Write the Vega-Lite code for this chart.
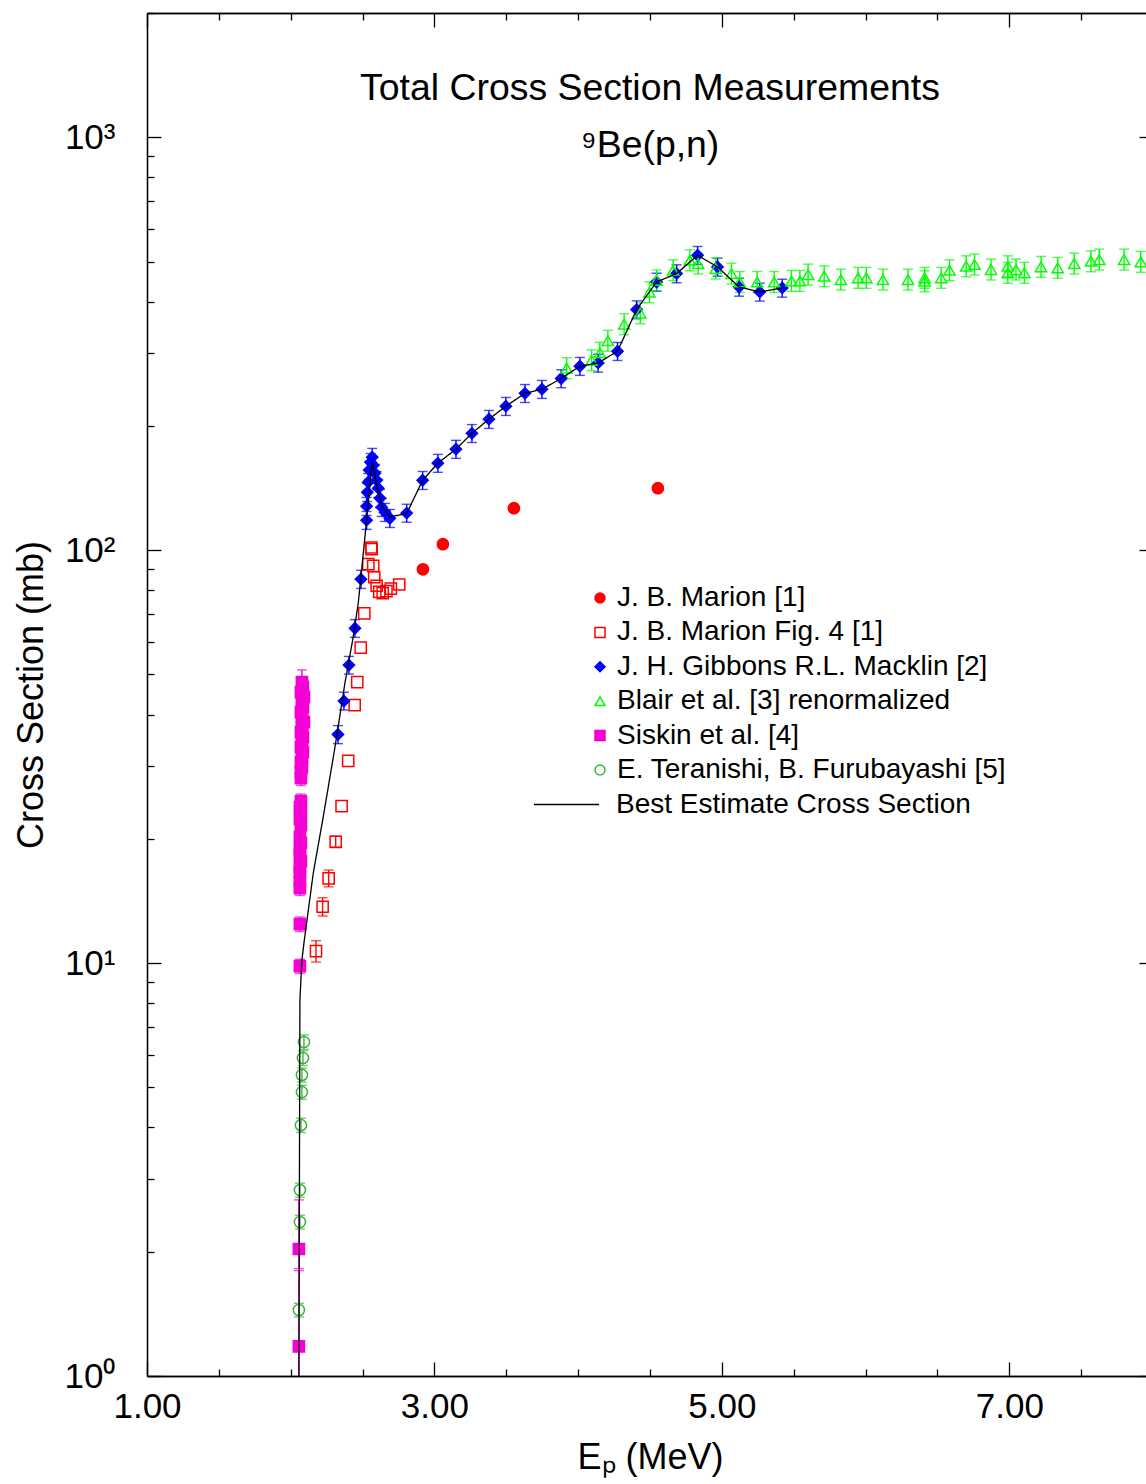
{
  "$schema": "https://vega.github.io/schema/vega-lite/v6.json",
  "width": 1006,
  "height": 1363,
  "autosize": {"type": "none"},
  "padding": {"left": 147, "top": 13, "right": -7, "bottom": 108},
  "background": "white",
  "title": {
    "text": ["Total Cross Section Measurements", "⁹Be(p,n)"],
    "anchor": "middle",
    "frame": "group",
    "orient": "top",
    "baseline": "top",
    "offset": -152,
    "lineHeight": 57,
    "font": "Liberation Sans",
    "fontSize": 37.4,
    "fontWeight": "normal",
    "color": "black"
  },
  "datasets": {
    "pts": [
      {"s": "J. B. Marion [1]", "e": 2.920, "y": 89.9},
      {"s": "J. B. Marion [1]", "e": 3.059, "y": 103.4},
      {"s": "J. B. Marion [1]", "e": 3.553, "y": 126.4},
      {"s": "J. B. Marion [1]", "e": 4.555, "y": 141.3},
      {"s": "J. B. Marion Fig. 4 [1]", "e": 2.176, "y": 10.69, "lo": 10.06, "hi": 11.33},
      {"s": "J. B. Marion Fig. 4 [1]", "e": 2.222, "y": 13.69, "lo": 13.0, "hi": 14.4},
      {"s": "J. B. Marion Fig. 4 [1]", "e": 2.264, "y": 16.04, "lo": 15.3, "hi": 16.8},
      {"s": "J. B. Marion Fig. 4 [1]", "e": 2.313, "y": 19.67, "lo": 19.1, "hi": 20.3},
      {"s": "J. B. Marion Fig. 4 [1]", "e": 2.354, "y": 23.99},
      {"s": "J. B. Marion Fig. 4 [1]", "e": 2.400, "y": 30.89},
      {"s": "J. B. Marion Fig. 4 [1]", "e": 2.445, "y": 42.14},
      {"s": "J. B. Marion Fig. 4 [1]", "e": 2.463, "y": 47.9},
      {"s": "J. B. Marion Fig. 4 [1]", "e": 2.487, "y": 58.1},
      {"s": "J. B. Marion Fig. 4 [1]", "e": 2.512, "y": 70.3},
      {"s": "J. B. Marion Fig. 4 [1]", "e": 2.540, "y": 92.5},
      {"s": "J. B. Marion Fig. 4 [1]", "e": 2.560, "y": 101.5},
      {"s": "J. B. Marion Fig. 4 [1]", "e": 2.563, "y": 100.6},
      {"s": "J. B. Marion Fig. 4 [1]", "e": 2.574, "y": 91.6},
      {"s": "J. B. Marion Fig. 4 [1]", "e": 2.581, "y": 86.0},
      {"s": "J. B. Marion Fig. 4 [1]", "e": 2.598, "y": 82.0},
      {"s": "J. B. Marion Fig. 4 [1]", "e": 2.616, "y": 79.3},
      {"s": "J. B. Marion Fig. 4 [1]", "e": 2.640, "y": 78.7},
      {"s": "J. B. Marion Fig. 4 [1]", "e": 2.666, "y": 79.6},
      {"s": "J. B. Marion Fig. 4 [1]", "e": 2.697, "y": 80.7},
      {"s": "J. B. Marion Fig. 4 [1]", "e": 2.755, "y": 82.6},
      {"s": "J. H. Gibbons R.L. Macklin [2]", "e": 2.329, "y": 35.8, "lo": 34.0, "hi": 37.6},
      {"s": "J. H. Gibbons R.L. Macklin [2]", "e": 2.370, "y": 43.1, "lo": 41.0, "hi": 45.3},
      {"s": "J. H. Gibbons R.L. Macklin [2]", "e": 2.405, "y": 52.7, "lo": 50.1, "hi": 55.3},
      {"s": "J. H. Gibbons R.L. Macklin [2]", "e": 2.447, "y": 64.7, "lo": 61.5, "hi": 67.9},
      {"s": "J. H. Gibbons R.L. Macklin [2]", "e": 2.489, "y": 85.1, "lo": 80.8, "hi": 89.4},
      {"s": "J. H. Gibbons R.L. Macklin [2]", "e": 2.528, "y": 118.2, "lo": 112.3, "hi": 124.1},
      {"s": "J. H. Gibbons R.L. Macklin [2]", "e": 2.528, "y": 127.8, "lo": 121.4, "hi": 134.2},
      {"s": "J. H. Gibbons R.L. Macklin [2]", "e": 2.533, "y": 138.1, "lo": 131.2, "hi": 145.0},
      {"s": "J. H. Gibbons R.L. Macklin [2]", "e": 2.539, "y": 146.1, "lo": 138.8, "hi": 153.4},
      {"s": "J. H. Gibbons R.L. Macklin [2]", "e": 2.546, "y": 156.3, "lo": 148.5, "hi": 164.1},
      {"s": "J. H. Gibbons R.L. Macklin [2]", "e": 2.556, "y": 163.3, "lo": 155.1, "hi": 171.5},
      {"s": "J. H. Gibbons R.L. Macklin [2]", "e": 2.567, "y": 168.0, "lo": 159.6, "hi": 176.4},
      {"s": "J. H. Gibbons R.L. Macklin [2]", "e": 2.574, "y": 160.6, "lo": 152.6, "hi": 168.6},
      {"s": "J. H. Gibbons R.L. Macklin [2]", "e": 2.586, "y": 153.6, "lo": 145.9, "hi": 161.3},
      {"s": "J. H. Gibbons R.L. Macklin [2]", "e": 2.598, "y": 147.7, "lo": 140.3, "hi": 155.1},
      {"s": "J. H. Gibbons R.L. Macklin [2]", "e": 2.609, "y": 141.3, "lo": 134.2, "hi": 148.4},
      {"s": "J. H. Gibbons R.L. Macklin [2]", "e": 2.621, "y": 133.6, "lo": 126.9, "hi": 140.3},
      {"s": "J. H. Gibbons R.L. Macklin [2]", "e": 2.633, "y": 127.1, "lo": 120.7, "hi": 133.5},
      {"s": "J. H. Gibbons R.L. Macklin [2]", "e": 2.656, "y": 123.6, "lo": 117.4, "hi": 129.8},
      {"s": "J. H. Gibbons R.L. Macklin [2]", "e": 2.690, "y": 119.5, "lo": 113.5, "hi": 125.5},
      {"s": "J. H. Gibbons R.L. Macklin [2]", "e": 2.807, "y": 123.0, "lo": 116.9, "hi": 129.2},
      {"s": "J. H. Gibbons R.L. Macklin [2]", "e": 2.918, "y": 147.7, "lo": 140.3, "hi": 155.1},
      {"s": "J. H. Gibbons R.L. Macklin [2]", "e": 3.024, "y": 162.5, "lo": 154.4, "hi": 170.6},
      {"s": "J. H. Gibbons R.L. Macklin [2]", "e": 3.150, "y": 175.7, "lo": 166.9, "hi": 184.5},
      {"s": "J. H. Gibbons R.L. Macklin [2]", "e": 3.261, "y": 191.9, "lo": 182.3, "hi": 201.5},
      {"s": "J. H. Gibbons R.L. Macklin [2]", "e": 3.379, "y": 207.6, "lo": 197.2, "hi": 218.0},
      {"s": "J. H. Gibbons R.L. Macklin [2]", "e": 3.497, "y": 223.2, "lo": 212.0, "hi": 234.4},
      {"s": "J. H. Gibbons R.L. Macklin [2]", "e": 3.630, "y": 239.9, "lo": 227.9, "hi": 251.9},
      {"s": "J. H. Gibbons R.L. Macklin [2]", "e": 3.748, "y": 245.4, "lo": 233.1, "hi": 257.7},
      {"s": "J. H. Gibbons R.L. Macklin [2]", "e": 3.882, "y": 260.5, "lo": 247.5, "hi": 273.5},
      {"s": "J. H. Gibbons R.L. Macklin [2]", "e": 4.012, "y": 279.0, "lo": 265.1, "hi": 293.0},
      {"s": "J. H. Gibbons R.L. Macklin [2]", "e": 4.139, "y": 284.1, "lo": 269.9, "hi": 298.3},
      {"s": "J. H. Gibbons R.L. Macklin [2]", "e": 4.274, "y": 303.3, "lo": 288.1, "hi": 318.5},
      {"s": "J. H. Gibbons R.L. Macklin [2]", "e": 4.407, "y": 382.6, "lo": 363.5, "hi": 401.7},
      {"s": "J. H. Gibbons R.L. Macklin [2]", "e": 4.546, "y": 446.2, "lo": 423.9, "hi": 468.5},
      {"s": "J. H. Gibbons R.L. Macklin [2]", "e": 4.685, "y": 467.7, "lo": 444.3, "hi": 491.1},
      {"s": "J. H. Gibbons R.L. Macklin [2]", "e": 4.831, "y": 518.0, "lo": 492.1, "hi": 543.9},
      {"s": "J. H. Gibbons R.L. Macklin [2]", "e": 4.970, "y": 485.3, "lo": 461.0, "hi": 509.6},
      {"s": "J. H. Gibbons R.L. Macklin [2]", "e": 5.120, "y": 434.0, "lo": 412.3, "hi": 455.7},
      {"s": "J. H. Gibbons R.L. Macklin [2]", "e": 5.264, "y": 422.2, "lo": 401.1, "hi": 443.3},
      {"s": "J. H. Gibbons R.L. Macklin [2]", "e": 5.420, "y": 431.6, "lo": 410.0, "hi": 453.2},
      {"s": "Blair et al. [3] renormalized", "e": 3.920, "y": 275.9, "lo": 260.3, "hi": 292.5},
      {"s": "Blair et al. [3] renormalized", "e": 4.094, "y": 288.4, "lo": 272.1, "hi": 305.7},
      {"s": "Blair et al. [3] renormalized", "e": 4.151, "y": 300.8, "lo": 283.8, "hi": 318.8},
      {"s": "Blair et al. [3] renormalized", "e": 4.207, "y": 321.6, "lo": 303.4, "hi": 340.9},
      {"s": "Blair et al. [3] renormalized", "e": 4.320, "y": 352.6, "lo": 332.6, "hi": 373.8},
      {"s": "Blair et al. [3] renormalized", "e": 4.432, "y": 374.8, "lo": 353.6, "hi": 397.3},
      {"s": "Blair et al. [3] renormalized", "e": 4.496, "y": 421.4, "lo": 397.5, "hi": 446.7},
      {"s": "Blair et al. [3] renormalized", "e": 4.546, "y": 450.5, "lo": 425.0, "hi": 477.5},
      {"s": "Blair et al. [3] renormalized", "e": 4.661, "y": 476.4, "lo": 449.4, "hi": 505.0},
      {"s": "Blair et al. [3] renormalized", "e": 4.777, "y": 503.7, "lo": 475.2, "hi": 533.9},
      {"s": "Blair et al. [3] renormalized", "e": 4.835, "y": 494.5, "lo": 466.5, "hi": 524.2},
      {"s": "Blair et al. [3] renormalized", "e": 4.958, "y": 481.0, "lo": 453.8, "hi": 509.9},
      {"s": "Blair et al. [3] renormalized", "e": 5.067, "y": 467.7, "lo": 441.2, "hi": 495.8},
      {"s": "Blair et al. [3] renormalized", "e": 5.125, "y": 446.2, "lo": 420.9, "hi": 473.0},
      {"s": "Blair et al. [3] renormalized", "e": 5.246, "y": 446.2, "lo": 420.9, "hi": 473.0},
      {"s": "Blair et al. [3] renormalized", "e": 5.364, "y": 446.2, "lo": 420.9, "hi": 473.0},
      {"s": "Blair et al. [3] renormalized", "e": 5.484, "y": 448.9, "lo": 423.5, "hi": 475.8},
      {"s": "Blair et al. [3] renormalized", "e": 5.543, "y": 448.9, "lo": 423.5, "hi": 475.8},
      {"s": "Blair et al. [3] renormalized", "e": 5.600, "y": 465.1, "lo": 438.8, "hi": 493.0},
      {"s": "Blair et al. [3] renormalized", "e": 5.712, "y": 460.8, "lo": 434.7, "hi": 488.4},
      {"s": "Blair et al. [3] renormalized", "e": 5.828, "y": 452.2, "lo": 426.6, "hi": 479.3},
      {"s": "Blair et al. [3] renormalized", "e": 5.948, "y": 456.6, "lo": 430.8, "hi": 484.0},
      {"s": "Blair et al. [3] renormalized", "e": 6.005, "y": 456.6, "lo": 430.8, "hi": 484.0},
      {"s": "Blair et al. [3] renormalized", "e": 6.121, "y": 452.2, "lo": 426.6, "hi": 479.3},
      {"s": "Blair et al. [3] renormalized", "e": 6.295, "y": 452.2, "lo": 426.6, "hi": 479.3},
      {"s": "Blair et al. [3] renormalized", "e": 6.411, "y": 456.6, "lo": 430.8, "hi": 484.0},
      {"s": "Blair et al. [3] renormalized", "e": 6.411, "y": 448.0, "lo": 422.6, "hi": 474.9},
      {"s": "Blair et al. [3] renormalized", "e": 6.526, "y": 456.6, "lo": 430.8, "hi": 484.0},
      {"s": "Blair et al. [3] renormalized", "e": 6.584, "y": 476.4, "lo": 449.4, "hi": 505.0},
      {"s": "Blair et al. [3] renormalized", "e": 6.700, "y": 487.2, "lo": 459.6, "hi": 516.4},
      {"s": "Blair et al. [3] renormalized", "e": 6.758, "y": 491.9, "lo": 464.1, "hi": 521.4},
      {"s": "Blair et al. [3] renormalized", "e": 6.873, "y": 478.3, "lo": 451.2, "hi": 507.0},
      {"s": "Blair et al. [3] renormalized", "e": 6.990, "y": 487.2, "lo": 459.6, "hi": 516.4},
      {"s": "Blair et al. [3] renormalized", "e": 6.990, "y": 469.6, "lo": 443.0, "hi": 497.8},
      {"s": "Blair et al. [3] renormalized", "e": 7.047, "y": 478.3, "lo": 451.2, "hi": 507.0},
      {"s": "Blair et al. [3] renormalized", "e": 7.105, "y": 469.6, "lo": 443.0, "hi": 497.8},
      {"s": "Blair et al. [3] renormalized", "e": 7.221, "y": 485.6, "lo": 458.1, "hi": 514.7},
      {"s": "Blair et al. [3] renormalized", "e": 7.337, "y": 482.9, "lo": 455.6, "hi": 511.9},
      {"s": "Blair et al. [3] renormalized", "e": 7.452, "y": 494.5, "lo": 466.5, "hi": 524.2},
      {"s": "Blair et al. [3] renormalized", "e": 7.568, "y": 500.9, "lo": 472.5, "hi": 531.0},
      {"s": "Blair et al. [3] renormalized", "e": 7.626, "y": 505.7, "lo": 477.1, "hi": 536.0},
      {"s": "Blair et al. [3] renormalized", "e": 7.799, "y": 505.7, "lo": 477.1, "hi": 536.0},
      {"s": "Blair et al. [3] renormalized", "e": 7.915, "y": 499.2, "lo": 470.9, "hi": 529.2},
      {"s": "Siskin et al. [4]", "e": 2.078, "y": 47.90, "lo": 44.6, "hi": 51.3},
      {"s": "Siskin et al. [4]", "e": 2.085, "y": 46.59, "lo": 44.73, "hi": 48.45},
      {"s": "Siskin et al. [4]", "e": 2.071, "y": 45.31, "lo": 43.50, "hi": 47.12},
      {"s": "Siskin et al. [4]", "e": 2.092, "y": 44.06, "lo": 42.30, "hi": 45.82},
      {"s": "Siskin et al. [4]", "e": 2.078, "y": 42.85, "lo": 41.14, "hi": 44.56},
      {"s": "Siskin et al. [4]", "e": 2.085, "y": 41.67, "lo": 40.00, "hi": 43.34},
      {"s": "Siskin et al. [4]", "e": 2.071, "y": 40.53, "lo": 38.91, "hi": 42.15},
      {"s": "Siskin et al. [4]", "e": 2.078, "y": 39.41, "lo": 37.83, "hi": 40.99},
      {"s": "Siskin et al. [4]", "e": 2.092, "y": 38.33, "lo": 36.80, "hi": 39.86},
      {"s": "Siskin et al. [4]", "e": 2.078, "y": 37.28, "lo": 35.79, "hi": 38.77},
      {"s": "Siskin et al. [4]", "e": 2.071, "y": 36.25, "lo": 34.80, "hi": 37.70},
      {"s": "Siskin et al. [4]", "e": 2.085, "y": 35.26, "lo": 33.85, "hi": 36.67},
      {"s": "Siskin et al. [4]", "e": 2.078, "y": 34.28, "lo": 32.91, "hi": 35.65},
      {"s": "Siskin et al. [4]", "e": 2.071, "y": 33.34, "lo": 32.01, "hi": 34.67},
      {"s": "Siskin et al. [4]", "e": 2.085, "y": 32.42, "lo": 31.12, "hi": 33.72},
      {"s": "Siskin et al. [4]", "e": 2.078, "y": 31.53, "lo": 30.27, "hi": 32.79},
      {"s": "Siskin et al. [4]", "e": 2.071, "y": 30.67, "lo": 29.44, "hi": 31.90},
      {"s": "Siskin et al. [4]", "e": 2.078, "y": 29.82, "lo": 28.63, "hi": 31.01},
      {"s": "Siskin et al. [4]", "e": 2.071, "y": 29.00, "lo": 27.84, "hi": 30.16},
      {"s": "Siskin et al. [4]", "e": 2.071, "y": 28.05, "lo": 26.93, "hi": 29.17},
      {"s": "Siskin et al. [4]", "e": 2.071, "y": 24.68, "lo": 23.69, "hi": 25.67},
      {"s": "Siskin et al. [4]", "e": 2.064, "y": 23.86, "lo": 22.91, "hi": 24.81},
      {"s": "Siskin et al. [4]", "e": 2.071, "y": 23.08, "lo": 22.16, "hi": 24.00},
      {"s": "Siskin et al. [4]", "e": 2.064, "y": 22.32, "lo": 21.43, "hi": 23.21},
      {"s": "Siskin et al. [4]", "e": 2.071, "y": 21.59, "lo": 20.73, "hi": 22.45},
      {"s": "Siskin et al. [4]", "e": 2.064, "y": 20.19, "lo": 19.38, "hi": 21.00},
      {"s": "Siskin et al. [4]", "e": 2.071, "y": 19.53, "lo": 18.75, "hi": 20.31},
      {"s": "Siskin et al. [4]", "e": 2.064, "y": 18.88, "lo": 18.12, "hi": 19.64},
      {"s": "Siskin et al. [4]", "e": 2.064, "y": 18.26, "lo": 17.53, "hi": 18.99},
      {"s": "Siskin et al. [4]", "e": 2.071, "y": 17.66, "lo": 16.95, "hi": 18.37},
      {"s": "Siskin et al. [4]", "e": 2.064, "y": 17.08, "lo": 16.40, "hi": 17.76},
      {"s": "Siskin et al. [4]", "e": 2.064, "y": 16.61, "lo": 15.95, "hi": 17.27},
      {"s": "Siskin et al. [4]", "e": 2.064, "y": 15.79, "lo": 15.16, "hi": 16.42},
      {"s": "Siskin et al. [4]", "e": 2.064, "y": 15.19, "lo": 14.58, "hi": 15.80},
      {"s": "Siskin et al. [4]", "e": 2.064, "y": 12.43, "lo": 11.93, "hi": 12.93},
      {"s": "Siskin et al. [4]", "e": 2.064, "y": 9.83, "lo": 9.44, "hi": 10.22},
      {"s": "Siskin et al. [4]", "e": 2.057, "y": 2.03, "lo": 1.82, "hi": 2.67},
      {"s": "Siskin et al. [4]", "e": 2.057, "y": 1.18, "lo": 0.6, "hi": 1.8},
      {"s": "E. Teranishi, B. Furubayashi [5]", "e": 2.092, "y": 6.44, "lo": 6.18, "hi": 6.70},
      {"s": "E. Teranishi, B. Furubayashi [5]", "e": 2.085, "y": 5.89, "lo": 5.65, "hi": 6.13},
      {"s": "E. Teranishi, B. Furubayashi [5]", "e": 2.078, "y": 5.36, "lo": 5.15, "hi": 5.57},
      {"s": "E. Teranishi, B. Furubayashi [5]", "e": 2.078, "y": 4.87, "lo": 4.68, "hi": 5.06},
      {"s": "E. Teranishi, B. Furubayashi [5]", "e": 2.071, "y": 4.05, "lo": 3.89, "hi": 4.21},
      {"s": "E. Teranishi, B. Furubayashi [5]", "e": 2.064, "y": 2.82, "lo": 2.71, "hi": 2.93},
      {"s": "E. Teranishi, B. Furubayashi [5]", "e": 2.064, "y": 2.36, "lo": 2.27, "hi": 2.45},
      {"s": "E. Teranishi, B. Furubayashi [5]", "e": 2.057, "y": 1.445, "lo": 1.39, "hi": 1.50}
    ],
    "best": [
      {"s": "Best Estimate Cross Section", "e": 2.057, "y": 1.0},
      {"s": "Best Estimate Cross Section", "e": 2.064, "y": 8.14},
      {"s": "Best Estimate Cross Section", "e": 2.078, "y": 10.17},
      {"s": "Best Estimate Cross Section", "e": 2.092, "y": 11.18},
      {"s": "Best Estimate Cross Section", "e": 2.157, "y": 16.52},
      {"s": "Best Estimate Cross Section", "e": 2.226, "y": 22.57},
      {"s": "Best Estimate Cross Section", "e": 2.308, "y": 33.34},
      {"s": "Best Estimate Cross Section", "e": 2.377, "y": 47.64},
      {"s": "Best Estimate Cross Section", "e": 2.431, "y": 60.54},
      {"s": "Best Estimate Cross Section", "e": 2.470, "y": 74.4},
      {"s": "Best Estimate Cross Section", "e": 2.528, "y": 118.2},
      {"s": "Best Estimate Cross Section", "e": 2.567, "y": 163.6},
      {"s": "Best Estimate Cross Section", "e": 2.598, "y": 143.7},
      {"s": "Best Estimate Cross Section", "e": 2.633, "y": 128.5},
      {"s": "Best Estimate Cross Section", "e": 2.690, "y": 120.4},
      {"s": "Best Estimate Cross Section", "e": 2.807, "y": 122.7},
      {"s": "Best Estimate Cross Section", "e": 2.918, "y": 147.7},
      {"s": "Best Estimate Cross Section", "e": 3.024, "y": 162.5},
      {"s": "Best Estimate Cross Section", "e": 3.150, "y": 175.7},
      {"s": "Best Estimate Cross Section", "e": 3.261, "y": 191.9},
      {"s": "Best Estimate Cross Section", "e": 3.379, "y": 207.6},
      {"s": "Best Estimate Cross Section", "e": 3.497, "y": 223.2},
      {"s": "Best Estimate Cross Section", "e": 3.630, "y": 239.9},
      {"s": "Best Estimate Cross Section", "e": 3.748, "y": 245.4},
      {"s": "Best Estimate Cross Section", "e": 3.882, "y": 260.5},
      {"s": "Best Estimate Cross Section", "e": 4.012, "y": 279.0},
      {"s": "Best Estimate Cross Section", "e": 4.139, "y": 284.1},
      {"s": "Best Estimate Cross Section", "e": 4.274, "y": 303.3},
      {"s": "Best Estimate Cross Section", "e": 4.407, "y": 382.6},
      {"s": "Best Estimate Cross Section", "e": 4.546, "y": 446.2},
      {"s": "Best Estimate Cross Section", "e": 4.685, "y": 467.7},
      {"s": "Best Estimate Cross Section", "e": 4.831, "y": 518.0},
      {"s": "Best Estimate Cross Section", "e": 4.970, "y": 485.3},
      {"s": "Best Estimate Cross Section", "e": 5.120, "y": 434.0},
      {"s": "Best Estimate Cross Section", "e": 5.264, "y": 422.2},
      {"s": "Best Estimate Cross Section", "e": 5.420, "y": 431.6}
    ]
  },
  "layer": [
    {
      "data": {"name": "pts"},
      "transform": [{"filter": "isValid(datum.lo)"}],
      "mark": {"type": "errorbar", "ticks": {"size": 10}, "thickness": 1.4, "clip": true},
      "encoding": {
        "x": {"field": "e", "type": "quantitative", "scale": {"type": "linear", "domain": [1, 8], "nice": false, "zero": false}, "axis": null},
        "y": {"field": "lo", "type": "quantitative", "scale": {"type": "log", "domain": [1, 2000], "nice": false}, "axis": null},
        "y2": {"field": "hi"},
        "color": {"field": "s", "type": "nominal", "legend": null,
          "scale": {"domain": ["E. Teranishi, B. Furubayashi [5]", "Siskin et al. [4]", "Blair et al. [3] renormalized", "J. H. Gibbons R.L. Macklin [2]", "J. B. Marion Fig. 4 [1]", "J. B. Marion [1]"],
                    "range": ["#3cb43c", "#f500d5", "#00ff00", "#0000ff", "#ff0000", "#ff0000"]}}
      }
    },
    {
      "data": {"name": "pts"},
      "mark": {"type": "point", "opacity": 1, "strokeWidth": 1.5, "size": 125, "clip": true},
      "encoding": {
        "x": {"field": "e", "type": "quantitative", "scale": {"type": "linear", "domain": [1, 8], "nice": false, "zero": false}, "axis": null},
        "y": {"field": "y", "type": "quantitative", "scale": {"type": "log", "domain": [1, 2000], "nice": false}, "axis": null},
        "shape": {"field": "s", "type": "nominal",
          "scale": {"domain": ["J. B. Marion [1]", "J. B. Marion Fig. 4 [1]", "J. H. Gibbons R.L. Macklin [2]", "Blair et al. [3] renormalized", "Siskin et al. [4]", "E. Teranishi, B. Furubayashi [5]"],
                    "range": ["circle", "square", "diamond", "triangle-up", "square", "circle"]},
          "legend": {"orient": "none", "legendX": 439, "legendY": 571, "title": null, "padding": 0, "labelFont": "Liberation Sans", "labelFontSize": 28, "labelColor": "black", "labelLimit": 800, "symbolSize": 100, "symbolStrokeWidth": 1.5, "symbolOpacity": 1, "rowPadding": 6.4, "labelOffset": 3}},
        "fill": {"field": "s", "type": "nominal",
          "scale": {"domain": ["J. B. Marion [1]", "J. B. Marion Fig. 4 [1]", "J. H. Gibbons R.L. Macklin [2]", "Blair et al. [3] renormalized", "Siskin et al. [4]", "E. Teranishi, B. Furubayashi [5]"],
                    "range": ["#ff0000", "transparent", "#0000ff", "transparent", "#f500d5", "transparent"]},
          "legend": {"orient": "none", "legendX": 439, "legendY": 571, "title": null, "padding": 0, "labelFont": "Liberation Sans", "labelFontSize": 28, "labelColor": "black", "labelLimit": 800, "symbolSize": 100, "symbolStrokeWidth": 1.5, "symbolOpacity": 1, "rowPadding": 6.4, "labelOffset": 3}},
        "stroke": {"field": "s", "type": "nominal",
          "scale": {"domain": ["J. B. Marion [1]", "J. B. Marion Fig. 4 [1]", "J. H. Gibbons R.L. Macklin [2]", "Blair et al. [3] renormalized", "Siskin et al. [4]", "E. Teranishi, B. Furubayashi [5]"],
                    "range": ["#ff0000", "#ff0000", "#0000ff", "#00ff00", "#f500d5", "#3cb43c"]},
          "legend": {"orient": "none", "legendX": 439, "legendY": 571, "title": null, "padding": 0, "labelFont": "Liberation Sans", "labelFontSize": 28, "labelColor": "black", "labelLimit": 800, "symbolSize": 100, "symbolStrokeWidth": 1.5, "symbolOpacity": 1, "rowPadding": 6.4, "labelOffset": 3}}
      }
    },
    {
      "data": {"name": "best"},
      "mark": {"type": "line", "color": "black", "strokeWidth": 1.3, "clip": true},
      "encoding": {
        "x": {"field": "e", "type": "quantitative", "scale": {"type": "linear", "domain": [1, 8], "nice": false, "zero": false}, "axis": null},
        "y": {"field": "y", "type": "quantitative", "scale": {"type": "log", "domain": [1, 2000], "nice": false}, "axis": null},
        "strokeDash": {"field": "s", "type": "nominal",
          "scale": {"domain": ["Best Estimate Cross Section"], "range": [[1, 0]]},
          "legend": {"orient": "none", "legendX": 386, "legendY": 758, "title": null, "padding": 0, "labelFont": "Liberation Sans", "labelFontSize": 28, "labelColor": "black", "labelLimit": 800, "symbolType": "stroke", "symbolSize": 4225, "symbolStrokeColor": "black", "symbolStrokeWidth": 1.3, "labelOffset": 16}}
      }
    },
    {
      "data": {"name": "best"},
      "mark": {"type": "point", "opacity": 0},
      "encoding": {
        "x": {"field": "e", "type": "quantitative", "scale": {"type": "linear", "domain": [1, 8], "nice": false, "zero": false},
              "axis": {"orient": "bottom", "values": [1, 3, 5, 7], "format": ".2f", "tickSize": -14, "labelPadding": 27, "title": "Eₚ (MeV)", "titlePadding": 16}},
        "y": {"field": "y", "type": "quantitative", "scale": {"type": "log", "domain": [1, 2000], "nice": false}, "axis": null}
      }
    },
    {
      "data": {"name": "best"},
      "mark": {"type": "point", "opacity": 0},
      "encoding": {
        "x": {"field": "e", "type": "quantitative", "scale": {"type": "linear", "domain": [1, 8], "nice": false, "zero": false},
              "axis": {"orient": "bottom", "values": [1.5, 2, 2.5, 3.5, 4, 4.5, 5.5, 6, 6.5, 7.5], "tickSize": -7, "labels": false, "title": null}},
        "y": {"field": "y", "type": "quantitative", "scale": {"type": "log", "domain": [1, 2000], "nice": false}, "axis": null}
      }
    },
    {
      "data": {"name": "best"},
      "mark": {"type": "point", "opacity": 0},
      "encoding": {
        "x": {"field": "e", "type": "quantitative", "scale": {"type": "linear", "domain": [1, 8], "nice": false, "zero": false},
              "axis": {"orient": "top", "values": [1, 3, 5, 7], "tickSize": -14, "labels": false, "title": null}},
        "y": {"field": "y", "type": "quantitative", "scale": {"type": "log", "domain": [1, 2000], "nice": false}, "axis": null}
      }
    },
    {
      "data": {"name": "best"},
      "mark": {"type": "point", "opacity": 0},
      "encoding": {
        "x": {"field": "e", "type": "quantitative", "scale": {"type": "linear", "domain": [1, 8], "nice": false, "zero": false},
              "axis": {"orient": "top", "values": [1.5, 2, 2.5, 3.5, 4, 4.5, 5.5, 6, 6.5, 7.5], "tickSize": -7, "labels": false, "title": null}},
        "y": {"field": "y", "type": "quantitative", "scale": {"type": "log", "domain": [1, 2000], "nice": false}, "axis": null}
      }
    },
    {
      "data": {"name": "best"},
      "mark": {"type": "point", "opacity": 0},
      "encoding": {
        "x": {"field": "e", "type": "quantitative", "scale": {"type": "linear", "domain": [1, 8], "nice": false, "zero": false}, "axis": null},
        "y": {"field": "y", "type": "quantitative", "scale": {"type": "log", "domain": [1, 2000], "nice": false},
              "axis": {"orient": "left", "values": [1, 10, 100, 1000], "tickSize": -14, "labelPadding": 46,
                       "labelExpr": "datum.value == 1 ? '10⁰' : datum.value == 10 ? '10¹' : datum.value == 100 ? '10²' : '10³'",
                       "title": "Cross Section (mb)", "titlePadding": 14}}
      }
    },
    {
      "data": {"name": "best"},
      "mark": {"type": "point", "opacity": 0},
      "encoding": {
        "x": {"field": "e", "type": "quantitative", "scale": {"type": "linear", "domain": [1, 8], "nice": false, "zero": false}, "axis": null},
        "y": {"field": "y", "type": "quantitative", "scale": {"type": "log", "domain": [1, 2000], "nice": false},
              "axis": {"orient": "left", "values": [2, 3, 4, 5, 6, 7, 8, 9, 20, 30, 40, 50, 60, 70, 80, 90, 200, 300, 400, 500, 600, 700, 800, 900, 2000], "tickSize": -7, "labels": false, "title": null}}
      }
    },
    {
      "data": {"name": "best"},
      "mark": {"type": "point", "opacity": 0},
      "encoding": {
        "x": {"field": "e", "type": "quantitative", "scale": {"type": "linear", "domain": [1, 8], "nice": false, "zero": false}, "axis": null},
        "y": {"field": "y", "type": "quantitative", "scale": {"type": "log", "domain": [1, 2000], "nice": false},
              "axis": {"orient": "right", "values": [1, 10, 100, 1000], "tickSize": -14, "labels": false, "title": null}}
      }
    },
    {
      "data": {"name": "best"},
      "mark": {"type": "point", "opacity": 0},
      "encoding": {
        "x": {"field": "e", "type": "quantitative", "scale": {"type": "linear", "domain": [1, 8], "nice": false, "zero": false}, "axis": null},
        "y": {"field": "y", "type": "quantitative", "scale": {"type": "log", "domain": [1, 2000], "nice": false},
              "axis": {"orient": "right", "values": [2, 3, 4, 5, 6, 7, 8, 9, 20, 30, 40, 50, 60, 70, 80, 90, 200, 300, 400, 500, 600, 700, 800, 900, 2000], "tickSize": -7, "labels": false, "title": null}}
      }
    }
  ],
  "config": {
    "view": {"stroke": null},
    "font": "Liberation Sans",
    "axis": {
      "grid": false,
      "domainColor": "black",
      "domainWidth": 1.3,
      "tickColor": "black",
      "tickWidth": 1.3,
      "labelFont": "Liberation Sans",
      "labelFontSize": 35,
      "labelColor": "black",
      "labelOverlap": false,
      "labelBound": false,
      "labelFlush": false,
      "titleFont": "Liberation Sans",
      "titleFontSize": 36,
      "titleFontWeight": "normal",
      "titleColor": "black"
    }
  }
}
